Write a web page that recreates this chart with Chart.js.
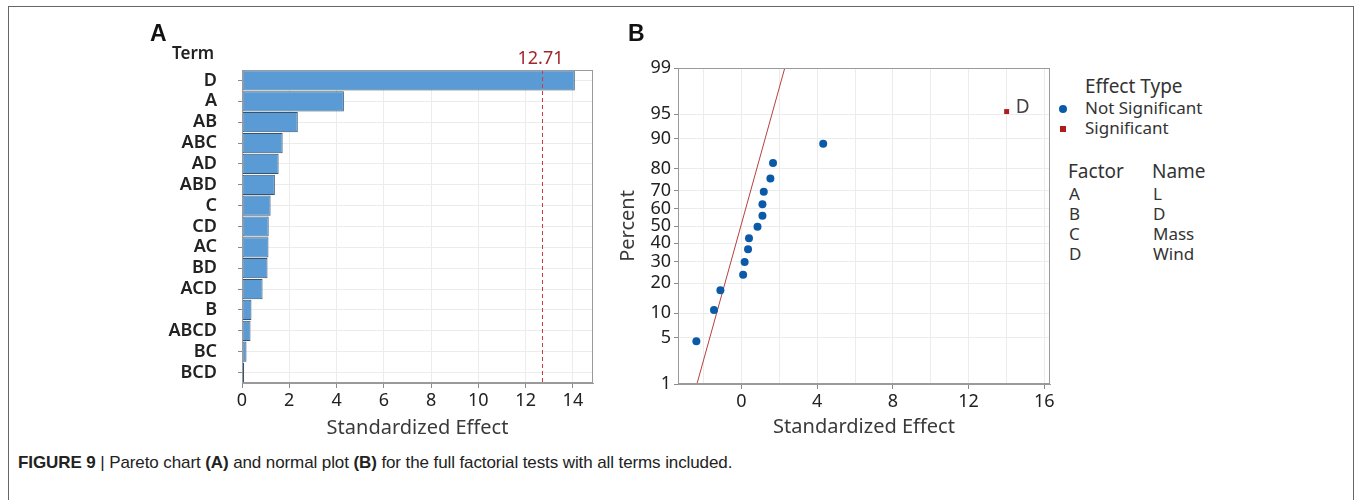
<!DOCTYPE html>
<html>
<head>
<meta charset="utf-8">
<script src="https://cdn.jsdelivr.net/npm/chart.js@4"></script>
<style>
  body{margin:0;background:#fff;width:1356px;height:500px;overflow:hidden;position:relative;font-family:"Noto Sans",sans-serif;color:#222;}
  .frame{position:absolute;left:8px;top:6px;width:1344px;height:600px;border:1px solid #666;border-bottom:none;}
  canvas{position:absolute;}
  .t{position:absolute;white-space:nowrap;line-height:1;}
  .panel{font-family:"Liberation Sans",Arial,sans-serif;font-weight:bold;font-size:23px;color:#111;}
  .leg{font-size:17px;color:#333;}
  .legh{font-size:19px;color:#333;}
  .cap{font-family:"Liberation Sans",Arial,sans-serif;font-size:17px;color:#222;left:18px;top:454px;letter-spacing:-0.1px;}
</style>
</head>
<body>
<div class="frame"></div>
<canvas id="pareto" width="480" height="450" style="left:130px;top:0"></canvas>
<canvas id="normal" width="452" height="450" style="left:605px;top:0"></canvas>

<div class="t panel" style="left:150px;top:22px">A</div>
<div class="t" style="left:172px;top:44px;font-size:17px;font-weight:600;color:#222">Term</div>
<div class="t panel" style="left:628px;top:22px">B</div>

<div class="t legh" style="left:1085px;top:77px">Effect Type</div>
<div class="t" style="left:1059px;top:105px;width:8px;height:8px;border-radius:50%;background:#0a5aa8"></div>
<div class="t leg" style="left:1085px;top:99px">Not Significant</div>
<div class="t" style="left:1060px;top:126px;width:6px;height:6px;background:#b01c1c"></div>
<div class="t leg" style="left:1085px;top:119px">Significant</div>
<div class="t legh" style="left:1068px;top:162px">Factor</div>
<div class="t legh" style="left:1152px;top:162px">Name</div>
<div id="factors"></div>

<div class="t cap"><b>FIGURE 9</b> | Pareto chart <b>(A)</b> and normal plot <b>(B)</b> for the full factorial tests with all terms included.</div>

<script>
// === Data ===
const terms = ['D','A','AB','ABC','AD','ABD','C','CD','AC','BD','ACD','B','ABCD','BC','BCD'];
const effects = [14.08,4.31,2.36,1.72,1.55,1.39,1.21,1.13,1.12,1.08,0.87,0.40,0.36,0.19,0.09];
const critical = 12.71;
const xTicksA = [0,2,4,6,8,10,12,14];

const nsEffects = [-2.38,-1.45,-1.11,0.09,0.17,0.35,0.40,0.85,1.11,1.11,1.18,1.53,1.67,4.32];
const nsPercent = [4.5,10.8,17.2,23.6,29.8,36.6,42.9,49.6,56.0,62.5,69.3,75.8,82.3,88.7];
const sigEffects = [14.01];
const sigPercent = [95.4];
const sigLabels = ['D'];
const fitX = [-2.35,2.29];
const fitPercent = [1,99];
const percentTicks = [1,5,10,20,30,40,50,60,70,80,90,95,99];
const xTicksB = [-2,0,2,4,6,8,10,12,14,16];

const factorCodes = ['A','B','C','D'];
const factorNames = ['L','D','Mass','Wind'];

const FONT = '"Noto Sans", sans-serif';

// factor table
const fDiv = document.getElementById('factors');
factorCodes.forEach((c,i)=>{
  const y = 185 + i*20;
  fDiv.innerHTML += `<div class="t leg" style="left:1069px;top:${y}px">${c}</div>
                     <div class="t leg" style="left:1153px;top:${y}px">${factorNames[i]}</div>`;
});

// inverse normal cdf (Acklam)
function probit(p){
  const a=[-39.69683028665376,220.9460984245205,-275.9285104469687,138.357751867269,-30.66479806614716,2.506628277459239];
  const b=[-54.47609879822406,161.5858368580409,-155.6989798598866,66.80131188771972,-13.28068155288572];
  const c=[-0.007784894002430293,-0.3223964580411365,-2.400758277161838,-2.549732539343734,4.374664141464968,2.938163982698783];
  const d=[0.007784695709041462,0.3224671290700398,2.445134137142996,3.754408661907416];
  const pl=0.02425; let q,r;
  if(p<pl){q=Math.sqrt(-2*Math.log(p));return (((((c[0]*q+c[1])*q+c[2])*q+c[3])*q+c[4])*q+c[5])/((((d[0]*q+d[1])*q+d[2])*q+d[3])*q+1);}
  if(p>1-pl){q=Math.sqrt(-2*Math.log(1-p));return -(((((c[0]*q+c[1])*q+c[2])*q+c[3])*q+c[4])*q+c[5])/((((d[0]*q+d[1])*q+d[2])*q+d[3])*q+1);}
  q=p-0.5;r=q*q;
  return (((((a[0]*r+a[1])*r+a[2])*r+a[3])*r+a[4])*r+a[5])*q/(((((b[0]*r+b[1])*r+b[2])*r+b[3])*r+b[4])*r+1);
}

// box around plot area
const boxPlugin = {
  id:'box',
  afterDraw(chart){
    const {ctx, chartArea:a} = chart;
    ctx.save(); ctx.strokeStyle='#9a9a9a'; ctx.lineWidth=1;
    ctx.strokeRect(a.left+0.5, a.top+0.5, a.right-a.left-1, a.bottom-a.top-1);
    ctx.restore();
  }
};

// critical value line on Pareto
const critPlugin = {
  id:'crit',
  afterDatasetsDraw(chart){
    const {ctx, chartArea:a, scales} = chart;
    const x = Math.round(scales.x.getPixelForValue(critical))+0.5;
    ctx.save();
    ctx.strokeStyle='#d23a3a'; ctx.lineWidth=1; ctx.setLineDash([4,3]);
    ctx.beginPath(); ctx.moveTo(x,a.top); ctx.lineTo(x,a.bottom); ctx.stroke();
    ctx.setLineDash([]);
    ctx.fillStyle='#a3262b'; ctx.font='18px '+FONT;
    ctx.textAlign='center'; ctx.textBaseline='middle';
    ctx.fillText(critical.toFixed(2), x-2, a.top-11);
    ctx.restore();
  }
};

// label for significant points
const sigLabelPlugin = {
  id:'sigLabel',
  afterDatasetsDraw(chart){
    const {ctx} = chart;
    const meta = chart.getDatasetMeta(1);
    ctx.save(); ctx.fillStyle='#444'; ctx.font='19px '+FONT;
    ctx.textAlign='left'; ctx.textBaseline='middle';
    meta.data.forEach((pt,i)=>ctx.fillText(sigLabels[i], pt.x+9, pt.y-4));
    ctx.restore();
  }
};

// === Pareto chart (A) ===
new Chart(document.getElementById('pareto'),{
  type:'bar',
  data:{labels:terms, datasets:[{data:effects, backgroundColor:'#5b9bd5', borderColor:'#35536f',
    borderWidth:1, borderSkipped:false, barPercentage:1, categoryPercentage:0.97}]},
  options:{
    indexAxis:'y', responsive:false, animation:false,
    layout:{padding:{top:70,right:17,left:0,bottom:0}},
    plugins:{legend:{display:false}, tooltip:{enabled:false}},
    scales:{
      x:{min:0, max:14.85,
        afterBuildTicks:s=>{s.ticks = xTicksA.map(v=>({value:v}));},
        afterFit:s=>{s.height=67;},
        grid:{color:'#ececec', tickLength:5, tickColor:'#8a8a8a'},
        border:{color:'#9a9a9a'},
        ticks:{font:{size:18,family:FONT}, color:'#222', padding:2, maxRotation:0},
        title:{display:true, text:'Standardized Effect', font:{size:20,family:FONT}, color:'#3a3a3a', padding:{top:0,bottom:10}}
      },
      y:{
        afterFit:s=>{s.width=112;},
        grid:{color:'#ececec', tickLength:4, tickColor:'#8a8a8a', offset:false},
        border:{color:'#9a9a9a'},
        ticks:{font:{size:18,family:FONT,weight:'600'}, color:'#222', padding:21, autoSkip:false}
      }
    }
  },
  plugins:[boxPlugin, critPlugin]
});

// === Normal plot (B) ===
const zMin = probit(percentTicks[0]/100), zMax = probit(percentTicks[percentTicks.length-1]/100);
new Chart(document.getElementById('normal'),{
  type:'scatter',
  data:{datasets:[
    {data:nsEffects.map((x,i)=>({x, y:probit(nsPercent[i]/100)})),
     pointStyle:'circle', pointRadius:4, backgroundColor:'#0a5aa8', borderColor:'#0a5aa8', borderWidth:0},
    {data:sigEffects.map((x,i)=>({x, y:probit(sigPercent[i]/100)})),
     pointStyle:'rect', pointRadius:3.5, backgroundColor:'#b01c1c', borderColor:'#b01c1c', borderWidth:0},
    {type:'line', data:fitX.map((x,i)=>({x, y:probit(fitPercent[i]/100)})),
     borderColor:'#b84040', borderWidth:1, pointRadius:0, fill:false}
  ]},
  options:{
    responsive:false, animation:false,
    layout:{padding:{top:68,right:7,left:0,bottom:0}},
    plugins:{legend:{display:false}, tooltip:{enabled:false}},
    scales:{
      x:{type:'linear', min:-3.35, max:16.3,
        afterBuildTicks:s=>{s.ticks = xTicksB.map(v=>({value:v}));},
        afterFit:s=>{s.height=66;},
        grid:{color:'#ececec', tickLength:5, tickColor:c=>c.tick && c.tick.value%4===0 ? '#8a8a8a' : 'rgba(0,0,0,0)'},
        border:{color:'#9a9a9a'},
        ticks:{font:{size:18,family:FONT}, color:'#222', padding:2, maxRotation:0,
          callback:v=>v%4===0 ? v : ''},
        title:{display:true, text:'Standardized Effect', font:{size:20,family:FONT}, color:'#3a3a3a', padding:{top:0,bottom:11}}
      },
      y:{type:'linear', min:zMin, max:zMax,
        afterBuildTicks:s=>{s.ticks = percentTicks.map(p=>({value:probit(p/100)}));},
        afterFit:s=>{s.width=73;},
        grid:{color:'#ececec', tickLength:4, tickColor:'#8a8a8a'},
        border:{color:'#9a9a9a'},
        ticks:{font:{size:18,family:FONT}, color:'#222', padding:3,
          callback:(v,i)=>percentTicks[i]},
        title:{display:true, text:'Percent', font:{size:20,family:FONT}, color:'#3a3a3a', padding:{top:11,bottom:0}}
      }
    }
  },
  plugins:[boxPlugin, sigLabelPlugin]
});
</script>
</body>
</html>
